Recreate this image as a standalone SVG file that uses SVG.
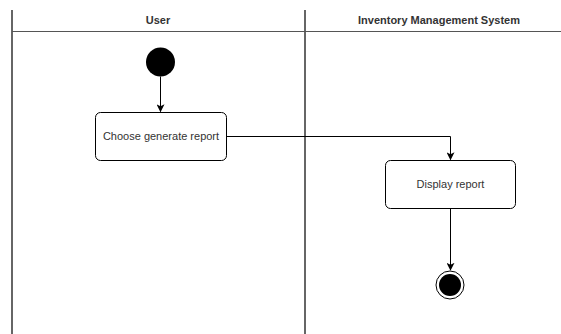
<svg xmlns="http://www.w3.org/2000/svg" width="561" height="334" viewBox="0 0 561 334">
<style>
.lane{stroke:#333;stroke-width:1.5;fill:none}
.hdr{font-family:"Liberation Sans",Arial,sans-serif;font-size:11px;font-weight:bold;fill:#333;text-anchor:middle}
.box{fill:#fff;stroke:#000;stroke-width:1}
.lbl{font-family:"Liberation Sans",Arial,sans-serif;font-size:11px;fill:#333;text-anchor:middle}
.edge{stroke:#000;stroke-width:1;fill:none}
</style>
<defs>
<marker id="arr" viewBox="0 0 10 10" refX="9" refY="5" markerWidth="8" markerHeight="8" markerUnits="userSpaceOnUse" orient="auto">
<path d="M0,0 L10,5 L0,10 L2.5,5 Z" fill="#000"/>
</marker>
</defs>
<rect width="561" height="334" fill="#fff"/>
<g id="lanes">
<line class="lane" x1="12" y1="10" x2="12" y2="334"/>
<line class="lane" x1="305" y1="10" x2="305" y2="334"/>
<line x1="12" y1="31.5" x2="561" y2="31.5" stroke="#555" stroke-width="1"/>
<text class="hdr" x="158" y="23.5">User</text>
<text class="hdr" x="439" y="23.5">Inventory Management System</text>
</g>
<g id="start"><circle cx="160.5" cy="62" r="14.5" fill="#000"/></g>
<g id="choose">
<rect class="box" x="95.5" y="112.5" width="131" height="48" rx="5"/>
<text class="lbl" x="161" y="140">Choose generate report</text>
</g>
<g id="display">
<rect class="box" x="385.5" y="160.5" width="130" height="48" rx="5"/>
<text class="lbl" x="450.5" y="188">Display report</text>
</g>
<g id="end">
<circle cx="450" cy="285" r="14" fill="#fff" stroke="#000" stroke-width="1"/>
<circle cx="450" cy="285" r="11" fill="#000"/>
</g>
<g id="connectors">
<path class="edge" d="M160.5,76.5 V111.5" marker-end="url(#arr)"/>
<path class="edge" d="M226.5,136.5 H450.5 V159.5" marker-end="url(#arr)"/>
<path class="edge" d="M450.5,208.5 V270" marker-end="url(#arr)"/>
</g>
</svg>
